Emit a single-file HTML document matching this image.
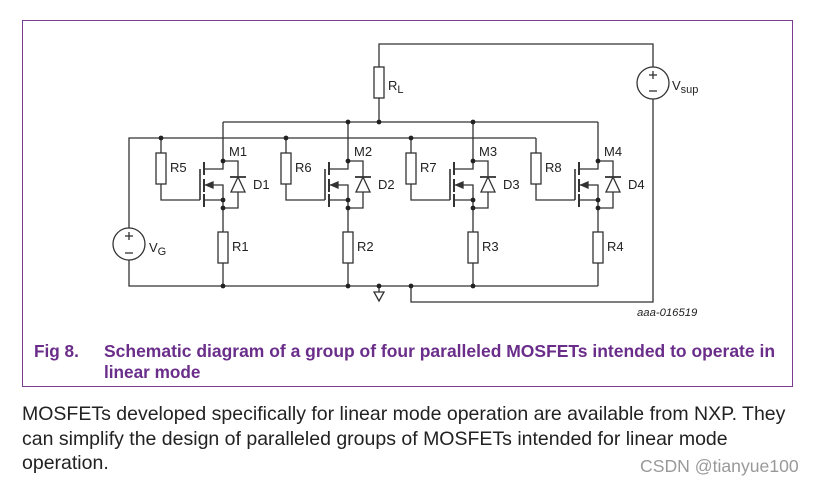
<!DOCTYPE html>
<html><head><meta charset="utf-8"><style>
body{margin:0;background:#fff;width:816px;height:483px;overflow:hidden;font-family:"Liberation Sans",Arial,sans-serif}
.t{position:absolute;color:#222;font-size:19.5px;left:22px;line-height:24.5px;white-space:nowrap}
</style></head><body>
<svg width="816" height="483" style="position:absolute;left:0;top:0" font-family="Liberation Sans, Arial, sans-serif">
<defs>
<g id="col" stroke="#333" stroke-width="1.3" fill="none">
<polyline points="0,122 0,169 -19,169"/>
<line x1="-19" y1="162" x2="-19" y2="175" stroke-width="2"/>
<line x1="-19" y1="179" x2="-19" y2="192" stroke-width="2"/>
<line x1="-19" y1="194" x2="-19" y2="207" stroke-width="2"/>
<line x1="-23" y1="169" x2="-23" y2="200" stroke-width="1.6"/>
<polyline points="-62,138 -62,200 -23,200"/>
<rect x="-67" y="153" width="10" height="31" fill="#fff"/>
<polyline points="-19,185 0,185 0,232"/>
<polygon points="-17,185 -10,182 -10,188" fill="#333"/>
<line x1="-19" y1="200" x2="0" y2="200"/>
<polyline points="0,161 15,161 15,208 0,208"/>
<polygon points="15,177 8,192 22,192" fill="#fff"/>
<line x1="7" y1="177" x2="23" y2="177" stroke-width="1.8"/>
<rect x="-5" y="232" width="10" height="31" fill="#fff"/>
<line x1="0" y1="263" x2="0" y2="286"/>
<circle cx="0" cy="161" r="2.4" fill="#222" stroke="none"/>
<circle cx="0" cy="200" r="2.4" fill="#222" stroke="none"/>
<circle cx="0" cy="208" r="2.4" fill="#222" stroke="none"/>
</g>
</defs>
<rect x="22.5" y="20.5" width="770" height="366" fill="none" stroke="#7b3d92" stroke-width="1"/>
<g stroke="#333" stroke-width="1.3" fill="none">
<polyline points="223,122 598,122"/>
<polyline points="129,228 129,138 536,138"/>
<polyline points="129,260 129,286 598,286"/>
<polyline points="379,122 379,44 653,44 653,67"/>
<polyline points="653,99 653,302 411,302 411,286"/>
<rect x="374" y="67" width="10" height="31" fill="#fff"/>
<circle cx="129" cy="244" r="16"/>
<circle cx="653" cy="83" r="16"/>
<line x1="379" y1="286" x2="379" y2="292"/>
<polygon points="374,292 384,292 379,301"/>
<line x1="125" y1="236" x2="133" y2="236"/><line x1="129" y1="232" x2="129" y2="240"/>
<line x1="125" y1="253" x2="133" y2="253"/>
<line x1="649" y1="75" x2="657" y2="75"/><line x1="653" y1="71" x2="653" y2="79"/>
<line x1="649" y1="91" x2="657" y2="91"/>
</g>
<use href="#col" x="223"/><use href="#col" x="348"/><use href="#col" x="473"/><use href="#col" x="598"/>
<g fill="#222">
<circle cx="348" cy="122" r="2.4"/><circle cx="379" cy="122" r="2.4"/><circle cx="473" cy="122" r="2.4"/>
<circle cx="161" cy="138" r="2.4"/><circle cx="286" cy="138" r="2.4"/><circle cx="411" cy="138" r="2.4"/>
<circle cx="223" cy="286" r="2.4"/><circle cx="348" cy="286" r="2.4"/><circle cx="379" cy="286" r="2.4"/><circle cx="411" cy="286" r="2.4"/><circle cx="473" cy="286" r="2.4"/>
</g>
<g font-size="13" fill="#222">
<text x="229" y="156">M1</text><text x="354" y="156">M2</text><text x="479" y="156">M3</text><text x="604" y="156">M4</text>
<text x="170" y="172">R5</text><text x="295" y="172">R6</text><text x="420" y="172">R7</text><text x="545" y="172">R8</text>
<text x="253" y="189">D1</text><text x="378" y="189">D2</text><text x="503" y="189">D3</text><text x="628" y="189">D4</text>
<text x="232" y="251">R1</text><text x="357" y="251">R2</text><text x="482" y="251">R3</text><text x="607" y="251">R4</text>
<text x="149" y="252">V<tspan font-size="11" dy="3">G</tspan></text>
<text x="388" y="90">R<tspan font-size="11" dy="3">L</tspan></text>
<text x="672" y="90">V<tspan font-size="11" dy="3">sup</tspan></text>
<text x="637" y="316" font-size="11.3" font-style="italic">aaa-016519</text>
</g>
<g font-size="17.2" font-weight="bold" fill="#6a2d8a">
<text x="34" y="357">Fig 8.</text>
<text x="104" y="357" textLength="671" lengthAdjust="spacingAndGlyphs">Schematic diagram of a group of four paralleled MOSFETs intended to operate in</text>
<text x="104" y="378">linear mode</text>
</g>
<text x="640" y="472" font-size="17.6" fill="#999">CSDN @tianyue100</text>
</svg>
<div class="t" style="top:402px">MOSFETs developed specifically for linear mode operation are available from NXP. They<br>can simplify the design of paralleled groups of MOSFETs intended for linear mode<br>operation.</div>
</body></html>
